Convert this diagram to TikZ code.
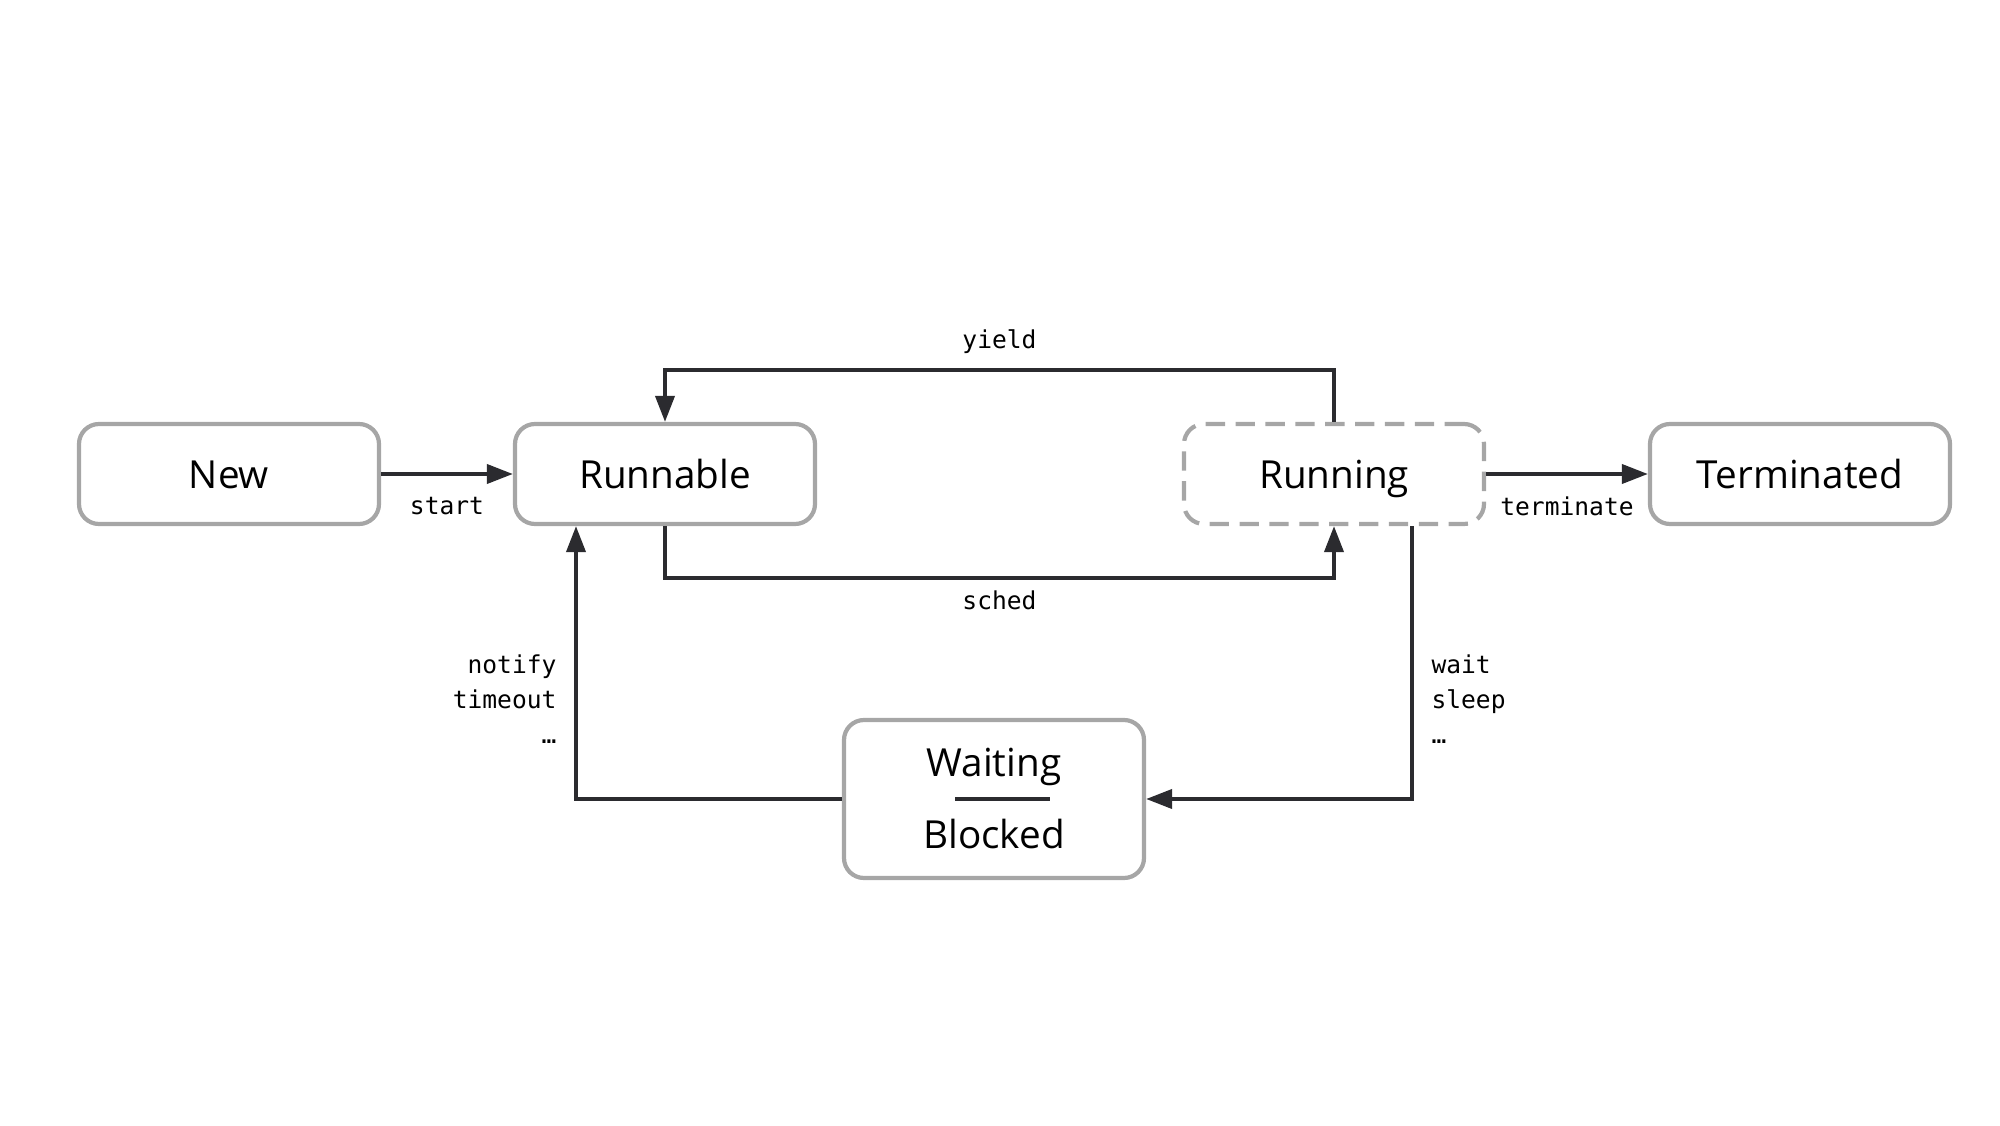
\documentclass[tikz,border=0pt]{standalone}
\usepackage{fontspec}
\setmainfont{Open Sans}
\newfontfamily\codefont{DejaVu Sans Mono}
\usetikzlibrary{arrows.meta}
\definecolor{boxgray}{HTML}{A6A6A6}
\definecolor{ink}{HTML}{2B2B2F}
\tikzset{>={Triangle[length=2.6mm,width=1.9mm]}}
\tikzset{
	state/.style={draw=boxgray, line width=1.2pt, rounded corners=2mm, minimum width=3cm, minimum height=1cm, text height=9.5pt, text depth=1.2pt, font=\fontsize{11}{13}\selectfont},
	flow/.style={->, draw=ink, line width=1.1pt},
	cmd/.style={font=\codefont\fontsize{7}{9.9}\selectfont, inner sep=1pt}
}

\begin{document}
\begin{tikzpicture}
	\useasboundingbox (0,0) rectangle (20,11.25);
	\node[state] (new) at (2.29,6.51) {New};
	\node[state] (runnable) at (6.65,6.51) {Runnable};
	\node[state, dash pattern=on 5.5pt off 3pt] (running) at (13.34,6.51) {Running};
	\node[state] (terminated) at (18.00,6.51) {Terminated};
	\node[state, minimum height=1.58cm] (waiting) at (9.94,3.26) {};
	\node[font=\fontsize{11}{13}\selectfont] (waittext) at ([yshift=0.32cm]waiting.center) {Waiting};
	\node[font=\fontsize{11}{13}\selectfont] (blocktext) at ([yshift=-0.35cm]waiting.center) {Blocked};
	\draw[ink, line width=1.1pt] ([xshift=-0.39cm]waiting.center) -- ([xshift=0.56cm]waiting.center);
	\draw[flow] (new) -- node[cmd, below=5pt] {start} (runnable);
	\draw[flow] (running) -- node[cmd, below=5pt] {terminate} (terminated);
	\draw[flow] (running.north) -- ++(0,0.52) -| node[pos=0.25, cmd, above=3pt] {yield} (runnable.north);
	\draw[flow] (runnable.south) -- ++(0,-0.52) -| node[pos=0.25, cmd, below=2pt] {sched} (running.south);
	\draw[flow] ([xshift=0.78cm]running.south) |- node[pos=0.317, cmd, right=4pt, align=left] {wait\\sleep\\…} (waiting.east);
	\draw[flow] (waiting.west) -| node[pos=0.683, cmd, left=4pt, align=right] {notify\\timeout\\…} ([xshift=-0.89cm]runnable.south);
\end{tikzpicture}
\end{document}
